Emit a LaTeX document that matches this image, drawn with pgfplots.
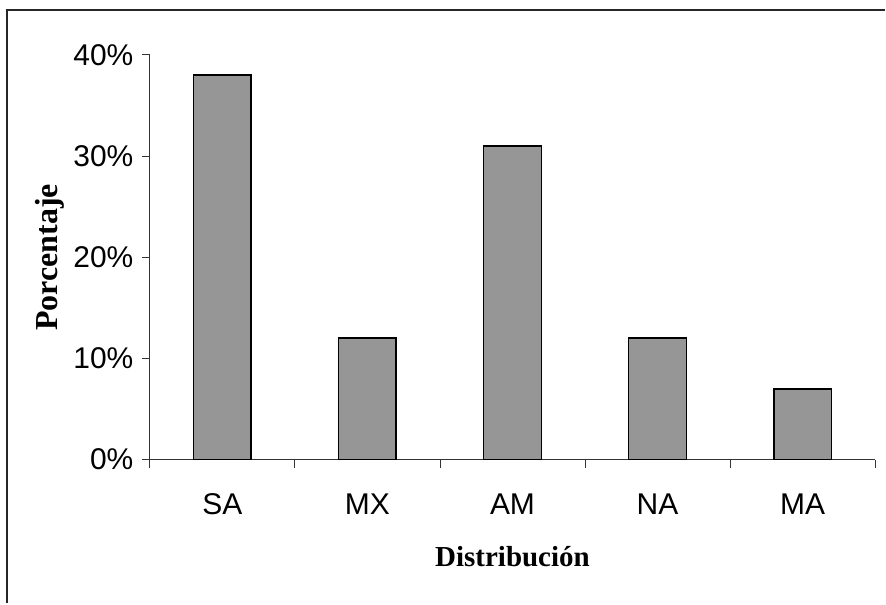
\documentclass[border=0pt]{standalone}
\usepackage{pgfplots}
\pgfplotsset{compat=1.18}
\usepackage{fontspec}
\setmainfont{Liberation Serif}
\newfontfamily\arial{Liberation Sans}
\definecolor{bargray}{HTML}{969696}

\begin{document}
\begin{tikzpicture}
% page size and outer frame (1px = 1pt)
\path (-150pt,-144pt) rectangle (736pt,460pt);
\draw[line width=1.8pt, black!85] (-143pt,-144pt) -- (-143pt,450pt) -- (736pt,450pt);
\begin{axis}[
  at={(0pt,0pt)}, anchor=south west,
  scale only axis, width=726pt, height=405pt,
  xmin=0, xmax=5, ymin=0, ymax=40,
  axis lines*=left,
  axis line style={line width=0.9pt, black!80},
  ytick={0,10,20,30,40},
  yticklabels={0\%,10\%,20\%,30\%,40\%},
  xtick={0.5,1.5,2.5,3.5,4.5},
  xticklabels={SA,MX,AM,NA,MA},
  minor xtick={0,1,2,3,4,5},
  tick align=outside,
  major tick length=8pt, minor tick length=8pt,
  major x tick style={draw=none},
  tick style={line width=0.9pt, black!80},
  tick label style={font=\arial\fontsize{30}{34}\selectfont},
  yticklabel style={xshift=-5pt},
  xticklabel style={yshift=-23pt},
  xlabel={Distribución}, ylabel={Porcentaje},
  xlabel style={font=\bfseries\fontsize{29}{33}\selectfont,
    at={(axis description cs:0.5,-0.2395)}, anchor=center},
  ylabel style={font=\bfseries\fontsize{32}{36}\selectfont,
    at={(axis description cs:-0.1377,0.5)}, anchor=center},
]
\addplot[ybar, bar width=58pt, fill=bargray, draw=black, line width=1.8pt]
  coordinates {(0.5,38) (1.5,12) (2.5,31) (3.5,12) (4.5,7)};
\end{axis}
\end{tikzpicture}
\end{document}
